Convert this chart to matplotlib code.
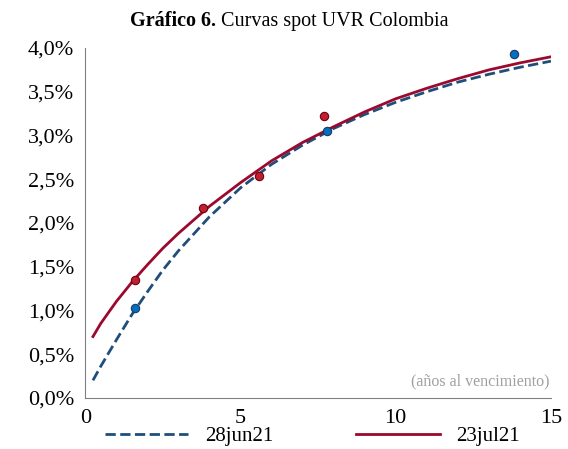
import matplotlib
matplotlib.use("Agg")
from matplotlib import pyplot as plt
from matplotlib.ticker import FuncFormatter

plt.rcParams["font.family"] = ["Liberation Serif", "DejaVu Serif"]

# curve values (years, %)
x_curve = [0.25, 0.5, 1, 1.5, 2, 2.5, 3, 4, 5, 6, 7, 8, 9, 10, 11, 12, 13, 14, 15]
jun_curve = [0.2, 0.36, 0.66, 0.95, 1.21, 1.46, 1.68, 2.07, 2.4, 2.67, 2.89, 3.08, 3.24, 3.38, 3.5, 3.61, 3.7, 3.78, 3.85]
jul_curve = [0.7, 0.85, 1.1, 1.32, 1.52, 1.71, 1.88, 2.19, 2.46, 2.71, 2.92, 3.1, 3.27, 3.42, 3.54, 3.65, 3.75, 3.83, 3.9]

# observed points
jun_x = [1.6, 7.8, 13.8]
jun_y = [1.03, 3.05, 3.93]
jul_x = [1.6, 3.8, 5.6, 7.7]
jul_y = [1.35, 2.17, 2.54, 3.22]

fig = plt.figure(figsize=(5.68, 4.49), dpi=100)
ax = fig.add_axes([0.15, 0.114, 0.82, 0.779])

l1, = ax.plot(x_curve, jun_curve, "--", color="#1F4E79", lw=2, label="28jun21")
l2, = ax.plot(x_curve, jul_curve, "-", color="#9B0A2E", lw=2, label="23jul21")
ax.scatter(jun_x, jun_y, s=36, color="#0070C0", edgecolor="#1F3864", lw=0.8, zorder=3)
ax.scatter(jul_x, jul_y, s=36, color="#C0202E", edgecolor="#6B0010", lw=0.8, zorder=3)

ax.set_xlim(0, 15)
ax.set_ylim(0, 4)
ax.set_xticks([0, 5, 10, 15])
ax.set_yticks([i * 0.5 for i in range(9)])
ax.yaxis.set_major_formatter(FuncFormatter(lambda v, p: f"{v:.1f}%".replace(".", ",")))
ax.tick_params(labelsize=16, length=0, pad=8)
ax.spines["top"].set_visible(False)
ax.spines["right"].set_visible(False)
ax.spines["left"].set_color("#808080")
ax.spines["bottom"].set_color("#808080")

ax.text(14.95, 0.1, "(años al vencimiento)", color="#A0A0A0", fontsize=11.5, ha="right", va="bottom")

fig.text(0.38, 0.93, "Gráfico 6.", fontsize=14.5, ha="right", va="bottom", weight="bold")
fig.text(0.38, 0.93, " Curvas spot UVR Colombia", fontsize=14.5, ha="left", va="bottom")

fig.legend(handles=[l1, l2], loc="lower center", bbox_to_anchor=(0.55, -0.035), ncol=2,
           frameon=False, fontsize=15, handlelength=4, columnspacing=4)

fig.savefig("out.png", dpi=100)
